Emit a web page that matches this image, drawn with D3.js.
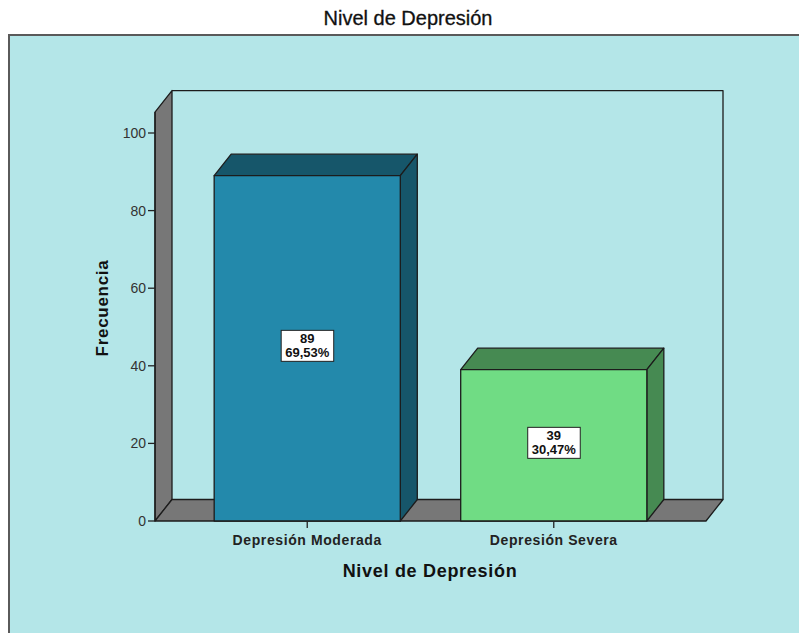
<!DOCTYPE html>
<html>
<head>
<meta charset="utf-8">
<script src="https://cdn.jsdelivr.net/npm/d3@7"></script>
<style>
  body { margin: 0; background: #fff; }
  svg { display: block; font-family: "Liberation Sans", Arial, sans-serif; }
  .edge { stroke: #1c1c1c; stroke-width: 1.3px; stroke-linejoin: round; }
  .tick-label { font-size: 14px; fill: #333; }
  .cat-label { font-size: 14px; font-weight: bold; fill: #222; letter-spacing: 0.6px; }
  .axis-title { font-size: 18px; font-weight: bold; fill: #111; letter-spacing: 0.7px; }
  .value-label { font-size: 13px; font-weight: bold; fill: #111; }
</style>
</head>
<body>
<svg id="chart" width="799" height="633"></svg>
<script>
  // data
  const categories = ["Depresión Moderada", "Depresión Severa"];
  const counts = [89, 39];
  const percents = ["69,53%", "30,47%"];
  const yTicks = [0, 20, 40, 60, 80, 100];

  const frontColors = ["#2389ab", "#70dc84"];
  const sideColors = ["#16566a", "#468a52"];

  const W = 799, H = 633;
  const depth = { dx: 17, dy: -21.5 };
  const yTop = 105.4; // where the walls end

  const svg = d3.select("#chart");

  // outer panel
  svg.append("rect")
    .attr("x", 9).attr("y", 35).attr("width", W).attr("height", H)
    .attr("fill", "#b4e6e8")
    .attr("stroke", "#5a5a5a").attr("stroke-width", 2);

  svg.append("text")
    .attr("x", 408).attr("y", 25)
    .attr("text-anchor", "middle")
    .style("font-size", "20px").style("fill", "#111")
    .style("stroke", "#111").style("stroke-width", 0.3)
    .text("Nivel de Depresión");

  const x = d3.scaleBand().domain(categories).range([155, 706])
    .paddingInner(0.245).paddingOuter(0.24);
  const y = d3.scaleLinear().domain([0, 100]).range([521, 133]);

  const x0 = 155, x1 = 706, y0 = y(0), yT = y(yTop);
  const pts = p => p.map(d => d.join(",")).join(" ");

  // left wall
  svg.append("polygon").attr("class", "edge").attr("fill", "#777")
    .attr("points", pts([[x0, y0], [x0, yT], [x0 + depth.dx, yT + depth.dy], [x0 + depth.dx, y0 + depth.dy]]));
  // floor
  svg.append("polygon").attr("class", "edge").attr("fill", "#777")
    .attr("points", pts([[x0, y0], [x1, y0], [x1 + depth.dx, y0 + depth.dy], [x0 + depth.dx, y0 + depth.dy]]));
  // back wall
  svg.append("polyline").attr("class", "edge").attr("fill", "none")
    .attr("points", pts([[x0 + depth.dx, yT + depth.dy], [x1 + depth.dx, yT + depth.dy], [x1 + depth.dx, y0 + depth.dy]]));

  // bars
  const bars = svg.append("g").selectAll("g").data(categories).join("g");
  bars.each(function(c, i) {
    const g = d3.select(this);
    const bx = x(c), bw = x.bandwidth(), by = y(counts[i]);
    g.append("polygon").attr("class", "edge").attr("fill", sideColors[i])
      .attr("points", pts([[bx, by], [bx + depth.dx, by + depth.dy], [bx + bw + depth.dx, by + depth.dy], [bx + bw, by]]));
    g.append("polygon").attr("class", "edge").attr("fill", sideColors[i])
      .attr("points", pts([[bx + bw, by], [bx + bw + depth.dx, by + depth.dy], [bx + bw + depth.dx, y0 + depth.dy], [bx + bw, y0]]));
    g.append("rect").attr("class", "edge").attr("fill", frontColors[i])
      .attr("x", bx).attr("y", by).attr("width", bw).attr("height", y0 - by);

    // value label box
    const cx = bx + bw / 2, cy = (by + y0) / 2 - 2;
    const lab = g.append("g");
    const t = lab.append("text").attr("class", "value-label").attr("text-anchor", "middle");
    t.append("tspan").attr("x", cx).attr("y", cy - 3).text(counts[i]);
    t.append("tspan").attr("x", cx).attr("y", cy + 11).text(percents[i]);
    const bb = t.node().getBBox();
    lab.insert("rect", "text")
      .attr("x", bb.x - 4).attr("y", bb.y - 1)
      .attr("width", bb.width + 8).attr("height", bb.height + 2)
      .attr("fill", "#fff").attr("stroke", "#222").attr("stroke-width", 1);
  });

  // y axis
  svg.append("line").attr("class", "edge").attr("x1", x0).attr("x2", x0).attr("y1", y0).attr("y2", yT);
  const yt = svg.append("g").selectAll("g").data(yTicks).join("g")
    .attr("transform", d => `translate(0,${y(d)})`);
  yt.append("line").attr("x1", 148).attr("x2", x0).attr("stroke", "#222").attr("stroke-width", 1.3);
  yt.append("text").attr("class", "tick-label").attr("x", 146).attr("dy", "0.35em")
    .attr("text-anchor", "end").text(d => d);

  // x axis ticks + labels
  const xt = svg.append("g").selectAll("g").data(categories).join("g")
    .attr("transform", d => `translate(${x(d) + x.bandwidth() / 2},0)`);
  xt.append("line").attr("y1", y0).attr("y2", y0 + 7).attr("stroke", "#222").attr("stroke-width", 1.3);
  xt.append("text").attr("class", "cat-label").attr("y", y0 + 24)
    .attr("text-anchor", "middle").text(d => d);

  svg.append("text").attr("class", "axis-title")
    .attr("x", 430).attr("y", 577).attr("text-anchor", "middle")
    .text("Nivel de Depresión");
  svg.append("text").attr("class", "axis-title")
    .attr("transform", "translate(108,308) rotate(-90)").attr("text-anchor", "middle")
    .style("font-size", "17px")
    .text("Frecuencia");
</script>
</body>
</html>
